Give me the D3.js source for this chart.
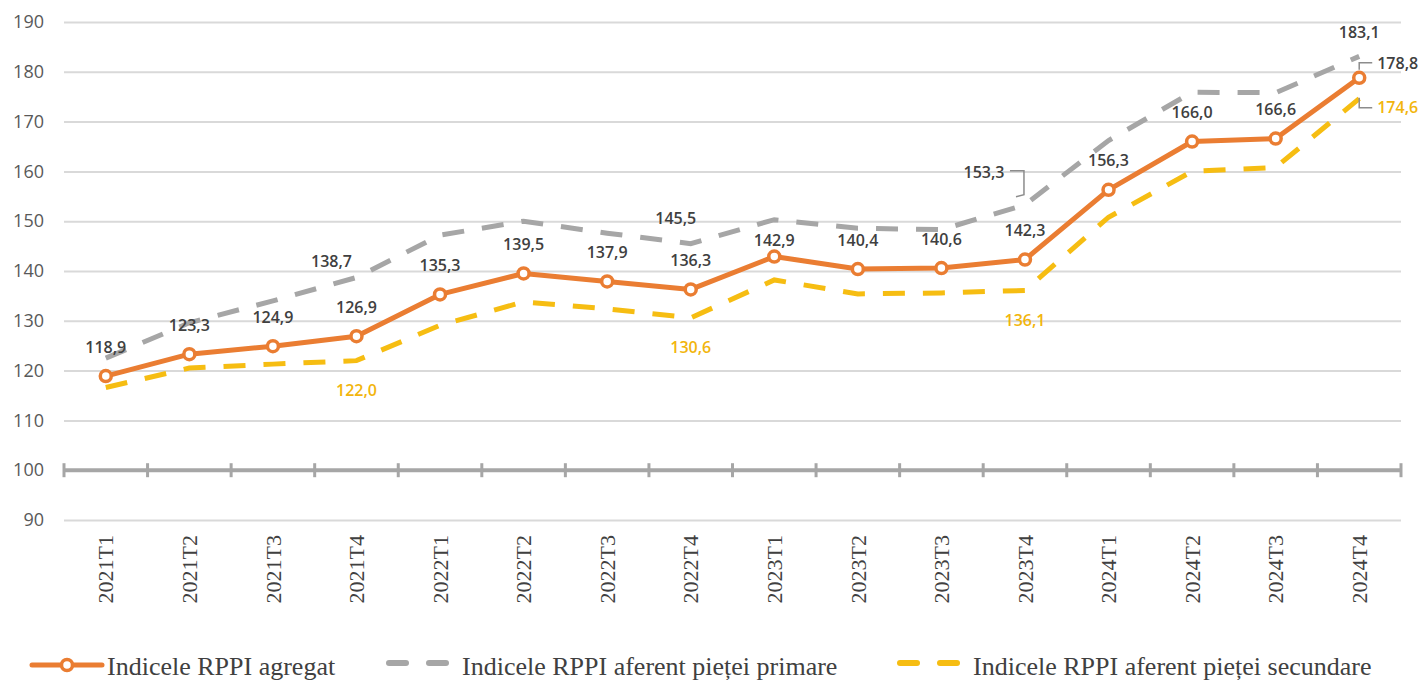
<!DOCTYPE html>
<html>
<head>
<meta charset="utf-8">
<script src="https://cdn.jsdelivr.net/npm/d3@7"></script>
<style>
  body { margin: 0; background: #fff; }
  svg { display: block; }
</style>
</head>
<body>
<div id="chart"></div>
<script>
// Data
var quarters = ["2021T1", "2021T2", "2021T3", "2021T4", "2022T1", "2022T2", "2022T3", "2022T4",
                "2023T1", "2023T2", "2023T3", "2023T4", "2024T1", "2024T2", "2024T3", "2024T4"];
var aggregat  = [118.9, 123.3, 124.9, 126.9, 135.3, 139.5, 137.9, 136.3, 142.9, 140.4, 140.6, 142.3, 156.3, 166.0, 166.6, 178.8];
var primara   = [122.5, 129.6, 134.0, 138.7, 147.2, 150.0, 147.6, 145.5, 150.3, 148.6, 148.3, 153.3, 166.2, 175.9, 175.8, 183.1];
var secundara = [116.6, 120.5, 121.3, 122.0, 129.1, 133.8, 132.4, 130.6, 138.2, 135.4, 135.6, 136.1, 150.8, 160.0, 160.8, 174.6];
var yTicks = [90, 100, 110, 120, 130, 140, 150, 160, 170, 180, 190];
var legendNames = ["Indicele RPPI agregat", "Indicele RPPI aferent pieței primare", "Indicele RPPI aferent pieței secundare"];

var width = 1421, height = 680;
var left = 64, right = 1401;

var orange = "#ea7d32", grey = "#a6a6a6", yellow = "#f6bd12", yellowText = "#f2b50c";
var labelColor = "#404040";

var svg = d3.select("#chart")
  .append("svg")
  .attr("width", width)
  .attr("height", height);

var x = d3.scaleBand()
  .domain(quarters)
  .range([left, right])
  .paddingInner(0)
  .paddingOuter(0);

var y = d3.scaleLinear()
  .domain([90, 190])
  .range([520, 22]);

var cx = function(i) { return x(quarters[i]) + x.bandwidth() / 2; };
var fmt = function(v) { return d3.format(".1f")(v).replace(".", ","); };

// Y axis with gridlines
var yAxis = svg.append("g")
  .attr("transform", "translate(" + left + ",0)")
  .call(d3.axisLeft(y).tickValues(yTicks).tickSize(-(right - left)).tickPadding(20));
yAxis.select(".domain").remove();
yAxis.selectAll(".tick line")
  .attr("stroke", "#d9d9d9")
  .attr("stroke-width", 2)
  .attr("opacity", function(d) { return d === 100 ? 0 : 1; });
yAxis.selectAll(".tick text")
  .attr("fill", "#595959")
  .style("font-family", "'Open Sans', sans-serif")
  .style("font-size", "18px");

// Base line at 100 with ticks between categories
var base = svg.append("g");
base.append("line")
  .attr("x1", left).attr("x2", right)
  .attr("y1", y(100)).attr("y2", y(100))
  .attr("stroke", grey)
  .attr("stroke-width", 4);
var bounds = quarters.map(function(q) { return x(q); }).concat([right]);
base.selectAll(".xtick")
  .data(bounds)
  .enter()
  .append("line")
  .attr("class", "xtick")
  .attr("x1", function(d) { return d; })
  .attr("x2", function(d) { return d; })
  .attr("y1", y(100) - 7)
  .attr("y2", y(100) + 7)
  .attr("stroke", grey)
  .attr("stroke-width", 3);

// X labels (rotated)
svg.append("g").selectAll("text")
  .data(quarters)
  .enter()
  .append("text")
  .attr("transform", function(d, i) { return "translate(" + cx(i) + ",535) rotate(-90)"; })
  .attr("text-anchor", "end")
  .attr("dy", "0.35em")
  .attr("fill", "#404040")
  .style("font-family", "'Liberation Serif', serif")
  .style("font-size", "22px")
  .text(function(d) { return d; });

var line = d3.line()
  .x(function(d, i) { return cx(i); })
  .y(function(d) { return y(d); });

svg.append("path")
  .datum(primara)
  .attr("d", line)
  .attr("fill", "none")
  .attr("stroke", grey)
  .attr("stroke-width", 5)
  .attr("stroke-dasharray", "22,18");

svg.append("path")
  .datum(secundara)
  .attr("d", line)
  .attr("fill", "none")
  .attr("stroke", yellow)
  .attr("stroke-width", 5)
  .attr("stroke-dasharray", "22,18");

svg.append("path")
  .datum(aggregat)
  .attr("d", line)
  .attr("fill", "none")
  .attr("stroke", orange)
  .attr("stroke-width", 5)
  .attr("stroke-linejoin", "round");

svg.append("g").selectAll("circle")
  .data(aggregat)
  .enter()
  .append("circle")
  .attr("cx", function(d, i) { return cx(i); })
  .attr("cy", function(d) { return y(d); })
  .attr("r", 5.5)
  .attr("fill", "#fff")
  .attr("stroke", orange)
  .attr("stroke-width", 3.5);

// Data labels
var labels = svg.append("g")
  .style("font-family", "'Open Sans', sans-serif")
  .style("font-size", "16px")
  .style("font-weight", 600);

function addLabel(v, px, py, dx, dy, color, anchor) {
  labels.append("text")
    .attr("x", px + dx)
    .attr("y", py + dy)
    .attr("dy", "0.35em")
    .attr("text-anchor", anchor || "middle")
    .attr("fill", color)
    .text(fmt(v));
}

var last = quarters.length - 1;
aggregat.forEach(function(v, i) {
  if (i === last) return;
  addLabel(v, cx(i), y(v), 0, i === 8 ? -16 : -29, labelColor);
});
addLabel(aggregat[last], cx(last), y(aggregat[last]), 18, -14, labelColor, "start");

// primary: only some points labelled
var greyOffsets = { 3: [-25, -16], 7: [-15, -25], 15: [0, -24] };
Object.keys(greyOffsets).forEach(function(k) {
  var i = +k;
  addLabel(primara[i], cx(i), y(primara[i]), greyOffsets[k][0], greyOffsets[k][1], labelColor);
});
addLabel(primara[11], cx(11), y(primara[11]), -41, -32, labelColor);

[3, 7, 11].forEach(function(i) {
  addLabel(secundara[i], cx(i), y(secundara[i]), 0, 30, yellowText);
});
addLabel(secundara[last], cx(last), y(secundara[last]), 18, 9, yellowText, "start");

// leader lines
var leaders = svg.append("g")
  .attr("fill", "none")
  .attr("stroke", "#8c8c8c")
  .attr("stroke-width", 1.5);
var p11x = cx(11), p11y = y(primara[11]);
leaders.append("path")
  .attr("d", "M" + (p11x - 15) + "," + (p11y - 34) + "H" + (p11x - 1) + "V" + (p11y - 10) + "L" + (p11x - 9) + "," + (p11y - 8));
var pLx = cx(last), pAy = y(aggregat[last]), pSy = y(secundara[last]);
leaders.append("path")
  .attr("d", "M" + pLx + "," + (pAy - 8) + "V" + (pAy - 15) + "H" + (pLx + 13));
leaders.append("path")
  .attr("d", "M" + pLx + "," + (pSy - 1) + "V" + (pSy + 9) + "H" + (pLx + 13));

// Legend
var legend = svg.append("g")
  .style("font-family", "'Liberation Serif', serif")
  .style("font-size", "26px")
  .attr("fill", "#404040");
var ly = 665;
legend.append("line")
  .attr("x1", 32).attr("x2", 102).attr("y1", ly).attr("y2", ly)
  .attr("stroke", orange).attr("stroke-width", 5).attr("stroke-linecap", "round");
legend.append("circle")
  .attr("cx", 67).attr("cy", ly).attr("r", 5.5)
  .attr("fill", "#fff").attr("stroke", orange).attr("stroke-width", 3.5);
legend.append("text").attr("x", 107).attr("y", ly + 10).text(legendNames[0]);

[[387, grey], [898, yellow]].forEach(function(d, k) {
  legend.append("line")
    .attr("x1", d[0] + 2).attr("x2", d[0] + 19).attr("y1", ly - 2).attr("y2", ly - 2)
    .attr("stroke", d[1]).attr("stroke-width", 6).attr("stroke-linecap", "round");
  legend.append("line")
    .attr("x1", d[0] + 42).attr("x2", d[0] + 59).attr("y1", ly - 2).attr("y2", ly - 2)
    .attr("stroke", d[1]).attr("stroke-width", 6).attr("stroke-linecap", "round");
  legend.append("text").attr("x", d[0] + 75).attr("y", ly + 10).text(legendNames[k + 1]);
});
</script>
</body>
</html>
